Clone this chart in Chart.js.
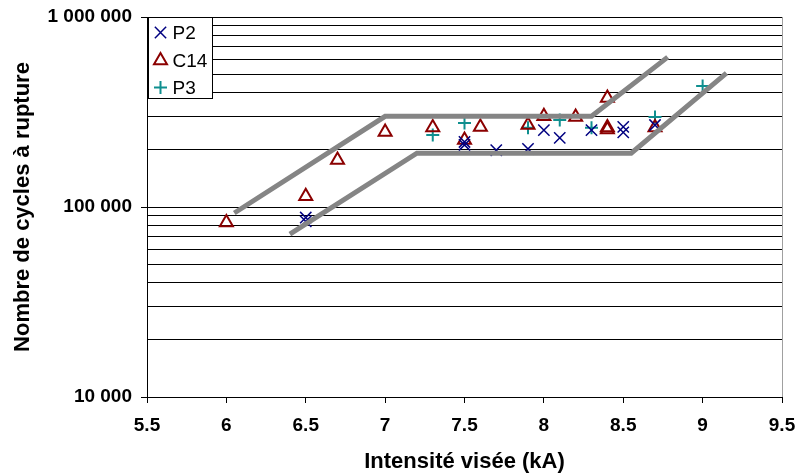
<!DOCTYPE html>
<html>
<head>
<meta charset="utf-8">
<script src="https://cdn.jsdelivr.net/npm/chart.js@4/dist/chart.umd.min.js"></script>
<style>
  html, body { margin: 0; padding: 0; background: #fff; }
  #wrap { width: 798px; height: 475px; }
</style>
</head>
<body>
<div id="wrap"><canvas id="chart"></canvas></div>
<script>
// Series P2 (crosses)
const p2X = [6.5, 6.5, 7.5, 7.5, 7.7, 7.9, 8.0, 8.1, 8.3, 8.5, 8.5, 8.7];
const p2Y = [88000, 84000, 212000, 220000, 199000, 202000, 254000, 231000, 254000, 264000, 247000, 270000];

// Series C14 (triangles)
const c14X = [6.0, 6.5, 6.7, 7.0, 7.3, 7.5, 7.6, 7.9, 8.0, 8.2, 8.4, 8.4, 8.4, 8.7];
const c14Y = [83000, 114000, 177000, 248000, 262000, 225000, 264000, 270000, 300000, 298000, 375000, 262000, 256000, 262000];

// Series P3 (plus signs)
const p3X = [7.3, 7.5, 7.9, 8.1, 8.3, 8.7, 9.0];
const p3Y = [239000, 277000, 261000, 287000, 261000, 298000, 433000];

// Grey band limits
const upperX = [6.05, 7.0, 8.3, 8.78];
const upperY = [93000, 300000, 300000, 615000];
const lowerX = [6.4, 7.2, 8.55, 9.15];
const lowerY = [72000, 192000, 192000, 507000];

// Axes
const xTicks = [5.5, 6, 6.5, 7, 7.5, 8, 8.5, 9, 9.5];
const yGrid = [10000, 20000, 30000, 40000, 50000, 60000, 70000, 80000, 90000,
               100000, 200000, 300000, 400000, 500000, 600000, 700000, 800000, 900000, 1000000];
const yMajor = [10000, 100000, 1000000];
const yTickLabels = ['10 000', '100 000', '1 000 000'];

const legendNames = ['P2', 'C14', 'P3'];

function pts(xs, ys) {
  return xs.map((x, i) => ({ x: x, y: ys[i] }));
}

const FONT = 'Liberation Sans, Arial, sans-serif';

// legend box + right border drawn inside the plot
const extras = {
  id: 'extras',
  afterDraw(chart) {
    const ctx = chart.ctx;
    const a = chart.chartArea;
    ctx.save();
    ctx.strokeStyle = '#a0a0a0';
    ctx.lineWidth = 1;
    ctx.beginPath();
    ctx.moveTo(a.right + 0.5, a.top);
    ctx.lineTo(a.right + 0.5, a.bottom);
    ctx.stroke();

    const bx = a.left + 1.5, by = a.top + 0.5, bw = 64, bh = 81;
    ctx.fillStyle = '#fff';
    ctx.fillRect(bx, by, bw, bh);
    ctx.strokeStyle = '#000';
    ctx.lineWidth = 1;
    ctx.strokeRect(bx, by, bw, bh);
    const rowY = [15, 43, 70];
    ctx.textBaseline = 'middle';
    ctx.textAlign = 'left';
    [0, 1, 2].forEach(i => {
      const ds = chart.data.datasets[i + 2];
      ctx.fillStyle = 'rgba(0,0,0,0)';
      ctx.strokeStyle = ds.borderColor;
      ctx.lineWidth = ds.borderWidth;
      Chart.helpers.drawPoint(ctx, {
        pointStyle: ds.pointStyle,
        radius: ds.pointRadius,
        borderWidth: ds.borderWidth,
        rotation: 0
      }, bx + 12, by + rowY[i]);
      ctx.font = '19px ' + FONT;
      ctx.fillStyle = '#000';
      ctx.fillText(legendNames[i], bx + 24, by + rowY[i] + 1);
    });
    ctx.restore();
  }
};

new Chart(document.getElementById('chart'), {
  type: 'scatter',
  data: {
    datasets: [
      {
        label: 'upper', data: pts(upperX, upperY), showLine: true,
        borderColor: '#858585', borderWidth: 5, pointRadius: 0, fill: false
      },
      {
        label: 'lower', data: pts(lowerX, lowerY), showLine: true,
        borderColor: '#858585', borderWidth: 5, pointRadius: 0, fill: false
      },
      {
        label: legendNames[0], data: pts(p2X, p2Y), pointStyle: 'crossRot',
        pointRadius: 8, borderColor: '#000080', backgroundColor: '#000080', borderWidth: 1.5
      },
      {
        label: legendNames[1], data: pts(c14X, c14Y), pointStyle: 'triangle',
        pointRadius: 7.5, borderColor: '#8b0000', backgroundColor: 'rgba(0,0,0,0)', borderWidth: 2
      },
      {
        label: legendNames[2], data: pts(p3X, p3Y), pointStyle: 'cross',
        pointRadius: 6.5, borderColor: '#0f8f8f', backgroundColor: '#0f8f8f', borderWidth: 2
      }
    ]
  },
  options: {
    responsive: true,
    maintainAspectRatio: false,
    animation: false,
    layout: { padding: { left: 0, top: 17, right: 16, bottom: 0 } },
    plugins: {
      legend: { display: false },
      tooltip: { enabled: false }
    },
    scales: {
      x: {
        type: 'linear',
        min: 5.5, max: 9.5,
        afterBuildTicks: s => { s.ticks = xTicks.map(v => ({ value: v })); },
        afterFit: s => { s.height = 78; s.paddingLeft = 0; s.paddingRight = 0; },
        border: { color: '#000', width: 1 },
        grid: { drawOnChartArea: false, drawTicks: true, tickLength: 6, tickColor: '#000' },
        ticks: {
          color: '#000', font: { family: FONT, size: 19, weight: 'bold' }, padding: 11,
          autoSkip: false, maxRotation: 0,
          callback: v => String(v)
        },
        title: {
          display: true, text: 'Intensité visée (kA)', color: '#000',
          font: { family: FONT, size: 22, weight: 'bold' }, padding: { top: 0, bottom: 0 }
        }
      },
      y: {
        type: 'logarithmic',
        min: 10000, max: 1000000,
        afterBuildTicks: s => { s.ticks = yGrid.map(v => ({ value: v, major: yMajor.includes(v) })); },
        afterFit: s => { s.width = 147; s.paddingTop = 0; s.paddingBottom = 0; },
        border: { color: '#000', width: 1 },
        grid: {
          color: '#000', lineWidth: 1, tickLength: 6,
          tickColor: c => (c.tick && yMajor.includes(c.tick.value)) ? '#000' : 'rgba(0,0,0,0)'
        },
        ticks: {
          color: '#000', font: { family: FONT, size: 19, weight: 'bold' }, padding: 9, autoSkip: false,
          callback: v => {
            const i = yMajor.indexOf(v);
            return i >= 0 ? yTickLabels[i] : '';
          }
        },
        title: {
          display: true, text: 'Nombre de cycles à rupture', color: '#000',
          font: { family: FONT, size: 22, weight: 'bold' }, padding: { top: 10, bottom: 0 }
        }
      }
    }
  },
  plugins: [extras]
});
</script>
</body>
</html>
